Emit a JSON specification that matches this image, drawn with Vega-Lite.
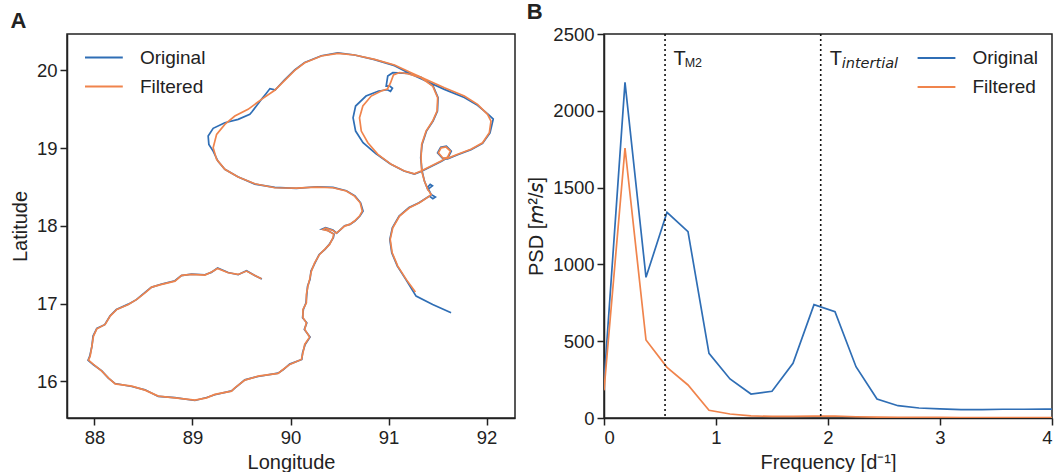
{
  "$schema": "https://vega.github.io/schema/vega-lite/v6.json",
  "padding": {"left": 9, "top": 0, "right": 0, "bottom": 0},
  "background": "white",
  "spacing": 10,
  "config": {
    "font": "Liberation Sans",
    "view": {"stroke": "#222", "strokeWidth": 1.5},
    "axis": {"labelFont": "Liberation Sans", "titleFont": "Liberation Sans", "labelFontSize": 18.5, "titleFontSize": 20, "titleFontWeight": "normal", "labelColor": "#222", "titleColor": "#222", "tickColor": "#222", "domainColor": "#222", "tickSize": 7, "tickWidth": 1.5, "domainWidth": 1.5, "grid": false, "labelPadding": 3, "titlePadding": 6, "format": "d"},
    "legend": {"labelFont": "Liberation Sans", "labelFontSize": 19, "labelColor": "#222", "symbolType": "M-1.4,0H1.4", "symbolSize": 729, "symbolStrokeWidth": 1.8, "rowPadding": 4, "labelOffset": 21.5, "padding": 0},
    "title": {"font": "Liberation Sans", "fontSize": 22, "fontWeight": "bold", "anchor": "start", "color": "#222", "offset": 1}
  },
  "resolve": {"scale": {"color": "independent"}, "legend": {"color": "independent"}},
  "hconcat": [
    {
      "width": 448, "height": 384,
      "title": {"text": "A"},
      "data": {"values": [
        {"series":"Original","i":1,"lon":89.708,"lat":17.316},{"series":"Original","i":2,"lon":89.640,"lat":17.358},{"series":"Original","i":3,"lon":89.551,"lat":17.424},{"series":"Original","i":4,"lon":89.466,"lat":17.372},{"series":"Original","i":5,"lon":89.364,"lat":17.401},{"series":"Original","i":6,"lon":89.256,"lat":17.458},{"series":"Original","i":7,"lon":89.192,"lat":17.402},{"series":"Original","i":8,"lon":89.127,"lat":17.372},{"series":"Original","i":9,"lon":88.991,"lat":17.380},{"series":"Original","i":10,"lon":88.886,"lat":17.360},
        {"series":"Original","i":11,"lon":88.821,"lat":17.295},{"series":"Original","i":12,"lon":88.686,"lat":17.252},{"series":"Original","i":13,"lon":88.580,"lat":17.210},{"series":"Original","i":14,"lon":88.516,"lat":17.144},{"series":"Original","i":15,"lon":88.428,"lat":17.052},{"series":"Original","i":16,"lon":88.346,"lat":16.994},{"series":"Original","i":17,"lon":88.224,"lat":16.924},{"series":"Original","i":18,"lon":88.160,"lat":16.845},{"series":"Original","i":19,"lon":88.105,"lat":16.730},{"series":"Original","i":20,"lon":88.024,"lat":16.682},
        {"series":"Original","i":21,"lon":87.986,"lat":16.583},{"series":"Original","i":22,"lon":87.974,"lat":16.450},{"series":"Original","i":23,"lon":87.952,"lat":16.325},{"series":"Original","i":24,"lon":87.935,"lat":16.272},{"series":"Original","i":25,"lon":87.990,"lat":16.214},{"series":"Original","i":26,"lon":88.075,"lat":16.136},{"series":"Original","i":27,"lon":88.142,"lat":16.042},{"series":"Original","i":28,"lon":88.211,"lat":15.973},{"series":"Original","i":29,"lon":88.381,"lat":15.935},{"series":"Original","i":30,"lon":88.516,"lat":15.892},
        {"series":"Original","i":31,"lon":88.651,"lat":15.807},{"series":"Original","i":32,"lon":88.821,"lat":15.793},{"series":"Original","i":33,"lon":89.025,"lat":15.755},{"series":"Original","i":34,"lon":89.144,"lat":15.793},{"series":"Original","i":35,"lon":89.228,"lat":15.829},{"series":"Original","i":36,"lon":89.398,"lat":15.879},{"series":"Original","i":37,"lon":89.432,"lat":15.914},{"series":"Original","i":38,"lon":89.534,"lat":16.021},{"series":"Original","i":39,"lon":89.669,"lat":16.064},{"series":"Original","i":40,"lon":89.873,"lat":16.107},
        {"series":"Original","i":41,"lon":89.924,"lat":16.150},{"series":"Original","i":42,"lon":89.992,"lat":16.223},{"series":"Original","i":43,"lon":90.115,"lat":16.283},{"series":"Original","i":44,"lon":90.123,"lat":16.368},{"series":"Original","i":45,"lon":90.149,"lat":16.476},{"series":"Original","i":46,"lon":90.199,"lat":16.570},{"series":"Original","i":47,"lon":90.141,"lat":16.669},{"series":"Original","i":48,"lon":90.166,"lat":16.754},{"series":"Original","i":49,"lon":90.123,"lat":16.818},{"series":"Original","i":50,"lon":90.131,"lat":16.926},
        {"series":"Original","i":51,"lon":90.158,"lat":17.011},{"series":"Original","i":52,"lon":90.166,"lat":17.119},{"series":"Original","i":53,"lon":90.174,"lat":17.226},{"series":"Original","i":54,"lon":90.199,"lat":17.312},{"series":"Original","i":55,"lon":90.209,"lat":17.419},{"series":"Original","i":56,"lon":90.250,"lat":17.525},{"series":"Original","i":57,"lon":90.293,"lat":17.633},{"series":"Original","i":58,"lon":90.352,"lat":17.698},{"series":"Original","i":59,"lon":90.395,"lat":17.762},{"series":"Original","i":60,"lon":90.437,"lat":17.847},
        {"series":"Original","i":61,"lon":90.444,"lat":17.894},{"series":"Original","i":62,"lon":90.375,"lat":17.944},{"series":"Original","i":63,"lon":90.320,"lat":17.958},{"series":"Original","i":64,"lon":90.358,"lat":17.978},{"series":"Original","i":65,"lon":90.433,"lat":17.946},{"series":"Original","i":66,"lon":90.471,"lat":17.907},{"series":"Original","i":67,"lon":90.505,"lat":17.946},{"series":"Original","i":68,"lon":90.552,"lat":18.002},{"series":"Original","i":69,"lon":90.607,"lat":18.019},{"series":"Original","i":70,"lon":90.657,"lat":18.062},
        {"series":"Original","i":71,"lon":90.708,"lat":18.126},{"series":"Original","i":72,"lon":90.740,"lat":18.190},{"series":"Original","i":73,"lon":90.715,"lat":18.297},{"series":"Original","i":74,"lon":90.657,"lat":18.387},{"series":"Original","i":75,"lon":90.569,"lat":18.452},{"series":"Original","i":76,"lon":90.433,"lat":18.494},{"series":"Original","i":77,"lon":90.264,"lat":18.503},{"series":"Original","i":78,"lon":90.060,"lat":18.482},{"series":"Original","i":79,"lon":89.839,"lat":18.494},{"series":"Original","i":80,"lon":89.636,"lat":18.537},
        {"series":"Original","i":81,"lon":89.462,"lat":18.632},{"series":"Original","i":82,"lon":89.330,"lat":18.727},{"series":"Original","i":82.5,"lon":89.259,"lat":18.833},{"series":"Original","i":83,"lon":89.211,"lat":18.962},{"series":"Original","i":83.5,"lon":89.167,"lat":19.048},{"series":"Original","i":84,"lon":89.160,"lat":19.155},{"series":"Original","i":84.5,"lon":89.211,"lat":19.254},{"series":"Original","i":85,"lon":89.330,"lat":19.326},{"series":"Original","i":85.5,"lon":89.466,"lat":19.370},{"series":"Original","i":86,"lon":89.585,"lat":19.434},
        {"series":"Original","i":87,"lon":89.605,"lat":19.464},{"series":"Original","i":89,"lon":89.704,"lat":19.627},{"series":"Original","i":89.3,"lon":89.750,"lat":19.700},{"series":"Original","i":89.6,"lon":89.790,"lat":19.765},{"series":"Original","i":89.9,"lon":89.830,"lat":19.752},{"series":"Original","i":90,"lon":89.843,"lat":19.747},{"series":"Original","i":91,"lon":89.937,"lat":19.875},{"series":"Original","i":92,"lon":90.043,"lat":20.004},{"series":"Original","i":93,"lon":90.145,"lat":20.102},{"series":"Original","i":94,"lon":90.315,"lat":20.188},
        {"series":"Original","i":95,"lon":90.483,"lat":20.223},{"series":"Original","i":96,"lon":90.653,"lat":20.197},{"series":"Original","i":97,"lon":90.857,"lat":20.137},{"series":"Original","i":98,"lon":91.061,"lat":20.060},{"series":"Original","i":99,"lon":91.231,"lat":19.950},{"series":"Original","i":100,"lon":91.570,"lat":19.755},{"series":"Original","i":101,"lon":91.773,"lat":19.650},{"series":"Original","i":102,"lon":91.908,"lat":19.550},{"series":"Original","i":103,"lon":92.020,"lat":19.430},{"series":"Original","i":104,"lon":92.068,"lat":19.374},
        {"series":"Original","i":105,"lon":92.035,"lat":19.197},{"series":"Original","i":106,"lon":91.959,"lat":19.060},{"series":"Original","i":107,"lon":91.841,"lat":18.980},{"series":"Original","i":108,"lon":91.705,"lat":18.915},{"series":"Original","i":109,"lon":91.603,"lat":18.862},{"series":"Original","i":110,"lon":91.548,"lat":18.872},{"series":"Original","i":111,"lon":91.500,"lat":18.940},{"series":"Original","i":112,"lon":91.532,"lat":19.012},{"series":"Original","i":113,"lon":91.590,"lat":19.024},{"series":"Original","i":114,"lon":91.640,"lat":18.962},
        {"series":"Original","i":115,"lon":91.607,"lat":18.880},{"series":"Original","i":116,"lon":91.536,"lat":18.828},{"series":"Original","i":117,"lon":91.434,"lat":18.764},{"series":"Original","i":118,"lon":91.332,"lat":18.700},{"series":"Original","i":119,"lon":91.264,"lat":18.666},{"series":"Original","i":120,"lon":91.158,"lat":18.705},{"series":"Original","i":121,"lon":91.020,"lat":18.795},{"series":"Original","i":122,"lon":90.870,"lat":18.930},{"series":"Original","i":123,"lon":90.740,"lat":19.069},{"series":"Original","i":124,"lon":90.664,"lat":19.219},
        {"series":"Original","i":125,"lon":90.638,"lat":19.390},{"series":"Original","i":126,"lon":90.664,"lat":19.541},{"series":"Original","i":127,"lon":90.770,"lat":19.669},{"series":"Original","i":128,"lon":90.900,"lat":19.734},{"series":"Original","i":129,"lon":90.989,"lat":19.750},{"series":"Original","i":129.2,"lon":91.020,"lat":19.730},{"series":"Original","i":129.4,"lon":91.040,"lat":19.770},{"series":"Original","i":129.6,"lon":91.010,"lat":19.800},{"series":"Original","i":129.8,"lon":90.976,"lat":19.798},{"series":"Original","i":130,"lon":90.992,"lat":19.927},
        {"series":"Original","i":131,"lon":91.043,"lat":19.969},{"series":"Original","i":133,"lon":91.196,"lat":19.960},{"series":"Original","i":134,"lon":91.332,"lat":19.910},{"series":"Original","i":135,"lon":91.455,"lat":19.798},{"series":"Original","i":136,"lon":91.505,"lat":19.648},{"series":"Original","i":137,"lon":91.499,"lat":19.477},{"series":"Original","i":138,"lon":91.454,"lat":19.348},{"series":"Original","i":139,"lon":91.387,"lat":19.219},{"series":"Original","i":140,"lon":91.342,"lat":19.048},{"series":"Original","i":141,"lon":91.328,"lat":18.876},
        {"series":"Original","i":142,"lon":91.342,"lat":18.705},{"series":"Original","i":143,"lon":91.366,"lat":18.576},{"series":"Original","i":144,"lon":91.400,"lat":18.469},{"series":"Original","i":144.2,"lon":91.448,"lat":18.515},{"series":"Original","i":144.4,"lon":91.425,"lat":18.535},{"series":"Original","i":144.6,"lon":91.398,"lat":18.495},{"series":"Original","i":145,"lon":91.434,"lat":18.405},{"series":"Original","i":145.3,"lon":91.478,"lat":18.372},{"series":"Original","i":145.6,"lon":91.452,"lat":18.350},{"series":"Original","i":146,"lon":91.417,"lat":18.383},
        {"series":"Original","i":147,"lon":91.311,"lat":18.297},{"series":"Original","i":148,"lon":91.209,"lat":18.238},{"series":"Original","i":149,"lon":91.108,"lat":18.126},{"series":"Original","i":150,"lon":91.039,"lat":17.976},{"series":"Original","i":151,"lon":91.013,"lat":17.826},{"series":"Original","i":152,"lon":91.033,"lat":17.654},{"series":"Original","i":153,"lon":91.090,"lat":17.483},{"series":"Original","i":154,"lon":91.176,"lat":17.312},{"series":"Original","i":155,"lon":91.281,"lat":17.097},{"series":"Original","i":156,"lon":91.450,"lat":16.990},
        {"series":"Original","i":157,"lon":91.638,"lat":16.882},
        {"series":"Filtered","i":1,"lon":89.704,"lat":17.320},{"series":"Filtered","i":2,"lon":89.636,"lat":17.363},{"series":"Filtered","i":3,"lon":89.551,"lat":17.419},{"series":"Filtered","i":4,"lon":89.466,"lat":17.376},{"series":"Filtered","i":5,"lon":89.364,"lat":17.397},{"series":"Filtered","i":6,"lon":89.256,"lat":17.453},{"series":"Filtered","i":7,"lon":89.195,"lat":17.406},{"series":"Filtered","i":8,"lon":89.127,"lat":17.367},{"series":"Filtered","i":9,"lon":88.991,"lat":17.376},{"series":"Filtered","i":10,"lon":88.890,"lat":17.363},
        {"series":"Filtered","i":11,"lon":88.821,"lat":17.290},{"series":"Filtered","i":12,"lon":88.686,"lat":17.248},{"series":"Filtered","i":13,"lon":88.584,"lat":17.213},{"series":"Filtered","i":14,"lon":88.516,"lat":17.139},{"series":"Filtered","i":15,"lon":88.432,"lat":17.055},{"series":"Filtered","i":16,"lon":88.346,"lat":16.990},{"series":"Filtered","i":17,"lon":88.228,"lat":16.926},{"series":"Filtered","i":18,"lon":88.160,"lat":16.840},{"series":"Filtered","i":19,"lon":88.109,"lat":16.733},{"series":"Filtered","i":20,"lon":88.024,"lat":16.677},
        {"series":"Filtered","i":21,"lon":87.990,"lat":16.583},{"series":"Filtered","i":22,"lon":87.974,"lat":16.454},{"series":"Filtered","i":23,"lon":87.956,"lat":16.325},{"series":"Filtered","i":24,"lon":87.939,"lat":16.274},{"series":"Filtered","i":25,"lon":87.990,"lat":16.219},{"series":"Filtered","i":26,"lon":88.075,"lat":16.132},{"series":"Filtered","i":27,"lon":88.142,"lat":16.046},{"series":"Filtered","i":28,"lon":88.211,"lat":15.969},{"series":"Filtered","i":29,"lon":88.381,"lat":15.939},{"series":"Filtered","i":30,"lon":88.516,"lat":15.888},
        {"series":"Filtered","i":31,"lon":88.651,"lat":15.811},{"series":"Filtered","i":32,"lon":88.821,"lat":15.789},{"series":"Filtered","i":33,"lon":89.025,"lat":15.759},{"series":"Filtered","i":34,"lon":89.144,"lat":15.789},{"series":"Filtered","i":35,"lon":89.228,"lat":15.833},{"series":"Filtered","i":36,"lon":89.398,"lat":15.875},{"series":"Filtered","i":37,"lon":89.432,"lat":15.918},{"series":"Filtered","i":38,"lon":89.534,"lat":16.017},{"series":"Filtered","i":39,"lon":89.669,"lat":16.068},{"series":"Filtered","i":40,"lon":89.873,"lat":16.103},
        {"series":"Filtered","i":41,"lon":89.924,"lat":16.154},{"series":"Filtered","i":42,"lon":89.992,"lat":16.219},{"series":"Filtered","i":43,"lon":90.111,"lat":16.283},{"series":"Filtered","i":44,"lon":90.127,"lat":16.368},{"series":"Filtered","i":45,"lon":90.145,"lat":16.476},{"series":"Filtered","i":46,"lon":90.195,"lat":16.570},{"series":"Filtered","i":47,"lon":90.145,"lat":16.669},{"series":"Filtered","i":48,"lon":90.162,"lat":16.754},{"series":"Filtered","i":49,"lon":90.127,"lat":16.818},{"series":"Filtered","i":50,"lon":90.127,"lat":16.926},
        {"series":"Filtered","i":51,"lon":90.162,"lat":17.011},{"series":"Filtered","i":52,"lon":90.162,"lat":17.119},{"series":"Filtered","i":53,"lon":90.178,"lat":17.226},{"series":"Filtered","i":54,"lon":90.195,"lat":17.312},{"series":"Filtered","i":55,"lon":90.213,"lat":17.419},{"series":"Filtered","i":56,"lon":90.246,"lat":17.525},{"series":"Filtered","i":57,"lon":90.297,"lat":17.633},{"series":"Filtered","i":58,"lon":90.348,"lat":17.698},{"series":"Filtered","i":59,"lon":90.399,"lat":17.762},{"series":"Filtered","i":60,"lon":90.433,"lat":17.847},
        {"series":"Filtered","i":61,"lon":90.440,"lat":17.894},{"series":"Filtered","i":62,"lon":90.379,"lat":17.940},{"series":"Filtered","i":63,"lon":90.331,"lat":17.955},{"series":"Filtered","i":64,"lon":90.358,"lat":17.972},{"series":"Filtered","i":65,"lon":90.433,"lat":17.942},{"series":"Filtered","i":66,"lon":90.467,"lat":17.907},{"series":"Filtered","i":67,"lon":90.501,"lat":17.942},{"series":"Filtered","i":68,"lon":90.552,"lat":17.997},{"series":"Filtered","i":69,"lon":90.603,"lat":18.019},{"series":"Filtered","i":70,"lon":90.653,"lat":18.062},
        {"series":"Filtered","i":71,"lon":90.704,"lat":18.126},{"series":"Filtered","i":72,"lon":90.732,"lat":18.190},{"series":"Filtered","i":73,"lon":90.711,"lat":18.297},{"series":"Filtered","i":74,"lon":90.653,"lat":18.383},{"series":"Filtered","i":75,"lon":90.569,"lat":18.448},{"series":"Filtered","i":76,"lon":90.433,"lat":18.490},{"series":"Filtered","i":77,"lon":90.264,"lat":18.499},{"series":"Filtered","i":78,"lon":90.060,"lat":18.486},{"series":"Filtered","i":79,"lon":89.839,"lat":18.490},{"series":"Filtered","i":80,"lon":89.636,"lat":18.541},
        {"series":"Filtered","i":81,"lon":89.466,"lat":18.628},{"series":"Filtered","i":82,"lon":89.330,"lat":18.727},{"series":"Filtered","i":83,"lon":89.246,"lat":18.855},{"series":"Filtered","i":84,"lon":89.211,"lat":19.004},{"series":"Filtered","i":85,"lon":89.246,"lat":19.177},{"series":"Filtered","i":86,"lon":89.330,"lat":19.305},{"series":"Filtered","i":87,"lon":89.432,"lat":19.412},{"series":"Filtered","i":88,"lon":89.567,"lat":19.498},{"series":"Filtered","i":89,"lon":89.704,"lat":19.627},{"series":"Filtered","i":90,"lon":89.839,"lat":19.743},
        {"series":"Filtered","i":91,"lon":89.941,"lat":19.871},{"series":"Filtered","i":92,"lon":90.043,"lat":20.000},{"series":"Filtered","i":93,"lon":90.145,"lat":20.098},{"series":"Filtered","i":94,"lon":90.315,"lat":20.184},{"series":"Filtered","i":95,"lon":90.483,"lat":20.219},{"series":"Filtered","i":96,"lon":90.653,"lat":20.197},{"series":"Filtered","i":97,"lon":90.857,"lat":20.141},{"series":"Filtered","i":98,"lon":91.061,"lat":20.068},{"series":"Filtered","i":99,"lon":91.231,"lat":19.969},{"series":"Filtered","i":100,"lon":91.570,"lat":19.776},
        {"series":"Filtered","i":101,"lon":91.773,"lat":19.669},{"series":"Filtered","i":102,"lon":91.908,"lat":19.563},{"series":"Filtered","i":103,"lon":92.010,"lat":19.434},{"series":"Filtered","i":104,"lon":92.045,"lat":19.348},{"series":"Filtered","i":105,"lon":92.028,"lat":19.197},{"series":"Filtered","i":106,"lon":91.959,"lat":19.069},{"series":"Filtered","i":107,"lon":91.841,"lat":18.984},{"series":"Filtered","i":108,"lon":91.705,"lat":18.920},{"series":"Filtered","i":109,"lon":91.603,"lat":18.868},{"series":"Filtered","i":110,"lon":91.552,"lat":18.876},
        {"series":"Filtered","i":111,"lon":91.508,"lat":18.940},{"series":"Filtered","i":112,"lon":91.536,"lat":19.004},{"series":"Filtered","i":113,"lon":91.587,"lat":19.014},{"series":"Filtered","i":114,"lon":91.631,"lat":18.962},{"series":"Filtered","i":115,"lon":91.603,"lat":18.885},{"series":"Filtered","i":116,"lon":91.536,"lat":18.833},{"series":"Filtered","i":117,"lon":91.434,"lat":18.769},{"series":"Filtered","i":118,"lon":91.332,"lat":18.705},{"series":"Filtered","i":119,"lon":91.264,"lat":18.670},{"series":"Filtered","i":120,"lon":91.162,"lat":18.705},
        {"series":"Filtered","i":121,"lon":91.027,"lat":18.791},{"series":"Filtered","i":122,"lon":90.891,"lat":18.920},{"series":"Filtered","i":123,"lon":90.789,"lat":19.069},{"series":"Filtered","i":124,"lon":90.722,"lat":19.219},{"series":"Filtered","i":125,"lon":90.704,"lat":19.390},{"series":"Filtered","i":126,"lon":90.738,"lat":19.541},{"series":"Filtered","i":127,"lon":90.823,"lat":19.669},{"series":"Filtered","i":128,"lon":90.925,"lat":19.734},{"series":"Filtered","i":129,"lon":90.989,"lat":19.760},{"series":"Filtered","i":130,"lon":91.020,"lat":19.837},
        {"series":"Filtered","i":131,"lon":91.050,"lat":19.940},{"series":"Filtered","i":132,"lon":91.112,"lat":19.972},{"series":"Filtered","i":133,"lon":91.196,"lat":19.956},{"series":"Filtered","i":134,"lon":91.332,"lat":19.905},{"series":"Filtered","i":135,"lon":91.450,"lat":19.798},{"series":"Filtered","i":136,"lon":91.501,"lat":19.648},{"series":"Filtered","i":137,"lon":91.495,"lat":19.477},{"series":"Filtered","i":138,"lon":91.450,"lat":19.348},{"series":"Filtered","i":139,"lon":91.383,"lat":19.219},{"series":"Filtered","i":140,"lon":91.338,"lat":19.048},
        {"series":"Filtered","i":141,"lon":91.332,"lat":18.876},{"series":"Filtered","i":142,"lon":91.338,"lat":18.705},{"series":"Filtered","i":143,"lon":91.366,"lat":18.576},{"series":"Filtered","i":144,"lon":91.400,"lat":18.469},{"series":"Filtered","i":145,"lon":91.434,"lat":18.405},{"series":"Filtered","i":146,"lon":91.417,"lat":18.383},{"series":"Filtered","i":147,"lon":91.315,"lat":18.297},{"series":"Filtered","i":148,"lon":91.213,"lat":18.233},{"series":"Filtered","i":149,"lon":91.112,"lat":18.126},{"series":"Filtered","i":150,"lon":91.043,"lat":17.976},
        {"series":"Filtered","i":151,"lon":91.017,"lat":17.826},{"series":"Filtered","i":152,"lon":91.037,"lat":17.654},{"series":"Filtered","i":153,"lon":91.094,"lat":17.483},{"series":"Filtered","i":154,"lon":91.180,"lat":17.312},{"series":"Filtered","i":155,"lon":91.274,"lat":17.149}
      ]},
      "mark": {"type": "line", "strokeWidth": 1.7, "clip": true},
      "encoding": {
        "x": {"field": "lon", "type": "quantitative", "scale": {"domain": [87.72, 92.29], "nice": false, "zero": false}, "axis": {"values": [88, 89, 90, 91, 92], "title": "Longitude"}},
        "y": {"field": "lat", "type": "quantitative", "scale": {"domain": [15.53, 20.467], "nice": false, "zero": false}, "axis": {"values": [16, 17, 18, 19, 20], "title": "Latitude"}},
        "color": {"field": "series", "type": "nominal", "scale": {"domain": ["Original", "Filtered"], "range": ["#2f6eb5", "#f0844c"]}, "legend": {"title": null, "orient": "none", "legendX": 22.4, "legendY": 9}},
        "order": {"field": "i", "type": "quantitative"}
      }
    },
    {
      "width": 448, "height": 384,
      "title": {"text": "B"},
      "layer": [
        {
          "data": {"values": [
            {"series":"Original","freq":0,"psd":230},{"series":"Original","freq":0.1875,"psd":2185},{"series":"Original","freq":0.375,"psd":916},{"series":"Original","freq":0.5625,"psd":1339},{"series":"Original","freq":0.75,"psd":1213},{"series":"Original","freq":0.9375,"psd":421},{"series":"Original","freq":1.125,"psd":254},{"series":"Original","freq":1.3125,"psd":156},{"series":"Original","freq":1.5,"psd":174},{"series":"Original","freq":1.6875,"psd":356},{"series":"Original","freq":1.875,"psd":738},{"series":"Original","freq":2.0625,"psd":692},{"series":"Original","freq":2.25,"psd":334},{"series":"Original","freq":2.4375,"psd":124},{"series":"Original","freq":2.625,"psd":80},{"series":"Original","freq":2.8125,"psd":65},{"series":"Original","freq":3.0,"psd":60},{"series":"Original","freq":3.1875,"psd":55},{"series":"Original","freq":3.375,"psd":55},{"series":"Original","freq":3.5625,"psd":57},{"series":"Original","freq":3.75,"psd":57},{"series":"Original","freq":3.9375,"psd":58},{"series":"Original","freq":4.125,"psd":58},
            {"series":"Filtered","freq":0,"psd":180},{"series":"Filtered","freq":0.1875,"psd":1758},{"series":"Filtered","freq":0.375,"psd":508},{"series":"Filtered","freq":0.5625,"psd":330},{"series":"Filtered","freq":0.75,"psd":215},{"series":"Filtered","freq":0.9375,"psd":50},{"series":"Filtered","freq":1.125,"psd":26},{"series":"Filtered","freq":1.3125,"psd":14},{"series":"Filtered","freq":1.5,"psd":10},{"series":"Filtered","freq":1.6875,"psd":10},{"series":"Filtered","freq":1.875,"psd":12},{"series":"Filtered","freq":2.0625,"psd":13},{"series":"Filtered","freq":2.25,"psd":8},{"series":"Filtered","freq":2.4375,"psd":6},{"series":"Filtered","freq":2.625,"psd":5},{"series":"Filtered","freq":2.8125,"psd":4},{"series":"Filtered","freq":3.0,"psd":4},{"series":"Filtered","freq":3.1875,"psd":3},{"series":"Filtered","freq":3.375,"psd":3},{"series":"Filtered","freq":3.5625,"psd":3},{"series":"Filtered","freq":3.75,"psd":3},{"series":"Filtered","freq":3.9375,"psd":3},{"series":"Filtered","freq":4.125,"psd":3}
          ]},
          "mark": {"type": "line", "strokeWidth": 1.7, "clip": true},
          "encoding": {
            "x": {"field": "freq", "type": "quantitative", "scale": {"domain": [0, 4], "nice": false}, "axis": {"values": [0, 1, 2, 3, 4], "title": "Frequency [d⁻¹]"}},
            "y": {"field": "psd", "type": "quantitative", "scale": {"domain": [0, 2500], "nice": false}, "axis": {"values": [0, 500, 1000, 1500, 2000, 2500], "title": "PSD [𝘮²/𝘴]"}},
            "color": {"field": "series", "type": "nominal", "scale": {"domain": ["Original", "Filtered"], "range": ["#2f6eb5", "#f0844c"]}, "legend": {"title": null, "orient": "none", "legendX": 318, "legendY": 9.5}}
          }
        },
        {
          "data": {"values": [{"f": 0.545}, {"f": 1.935}]},
          "mark": {"type": "rule", "strokeDash": [2, 3], "strokeWidth": 1.6, "color": "#111"},
          "encoding": {"x": {"field": "f", "type": "quantitative"}}
        },
        {
          "data": {"values": [{"f": 0.62, "p": 2298, "t": "T"}, {"f": 2.015, "p": 2298, "t": "T"}]},
          "mark": {"type": "text", "align": "left", "baseline": "alphabetic", "fontSize": 20, "font": "Liberation Sans", "color": "#222"},
          "encoding": {"x": {"field": "f", "type": "quantitative"}, "y": {"field": "p", "type": "quantitative"}, "text": {"field": "t"}}
        },
        {
          "data": {"values": [{"f": 0.72, "p": 2283, "t": "M2"}]},
          "mark": {"type": "text", "align": "left", "baseline": "alphabetic", "fontSize": 12.5, "font": "Liberation Sans", "color": "#222"},
          "encoding": {"x": {"field": "f", "type": "quantitative"}, "y": {"field": "p", "type": "quantitative"}, "text": {"field": "t"}}
        },
        {
          "data": {"values": [{"f": 2.122, "p": 2276, "t": "intertial"}]},
          "mark": {"type": "text", "align": "left", "baseline": "alphabetic", "fontSize": 14.5, "font": "DejaVu Sans", "fontStyle": "italic", "color": "#222"},
          "encoding": {"x": {"field": "f", "type": "quantitative"}, "y": {"field": "p", "type": "quantitative"}, "text": {"field": "t"}}
        }
      ]
    }
  ]
}
